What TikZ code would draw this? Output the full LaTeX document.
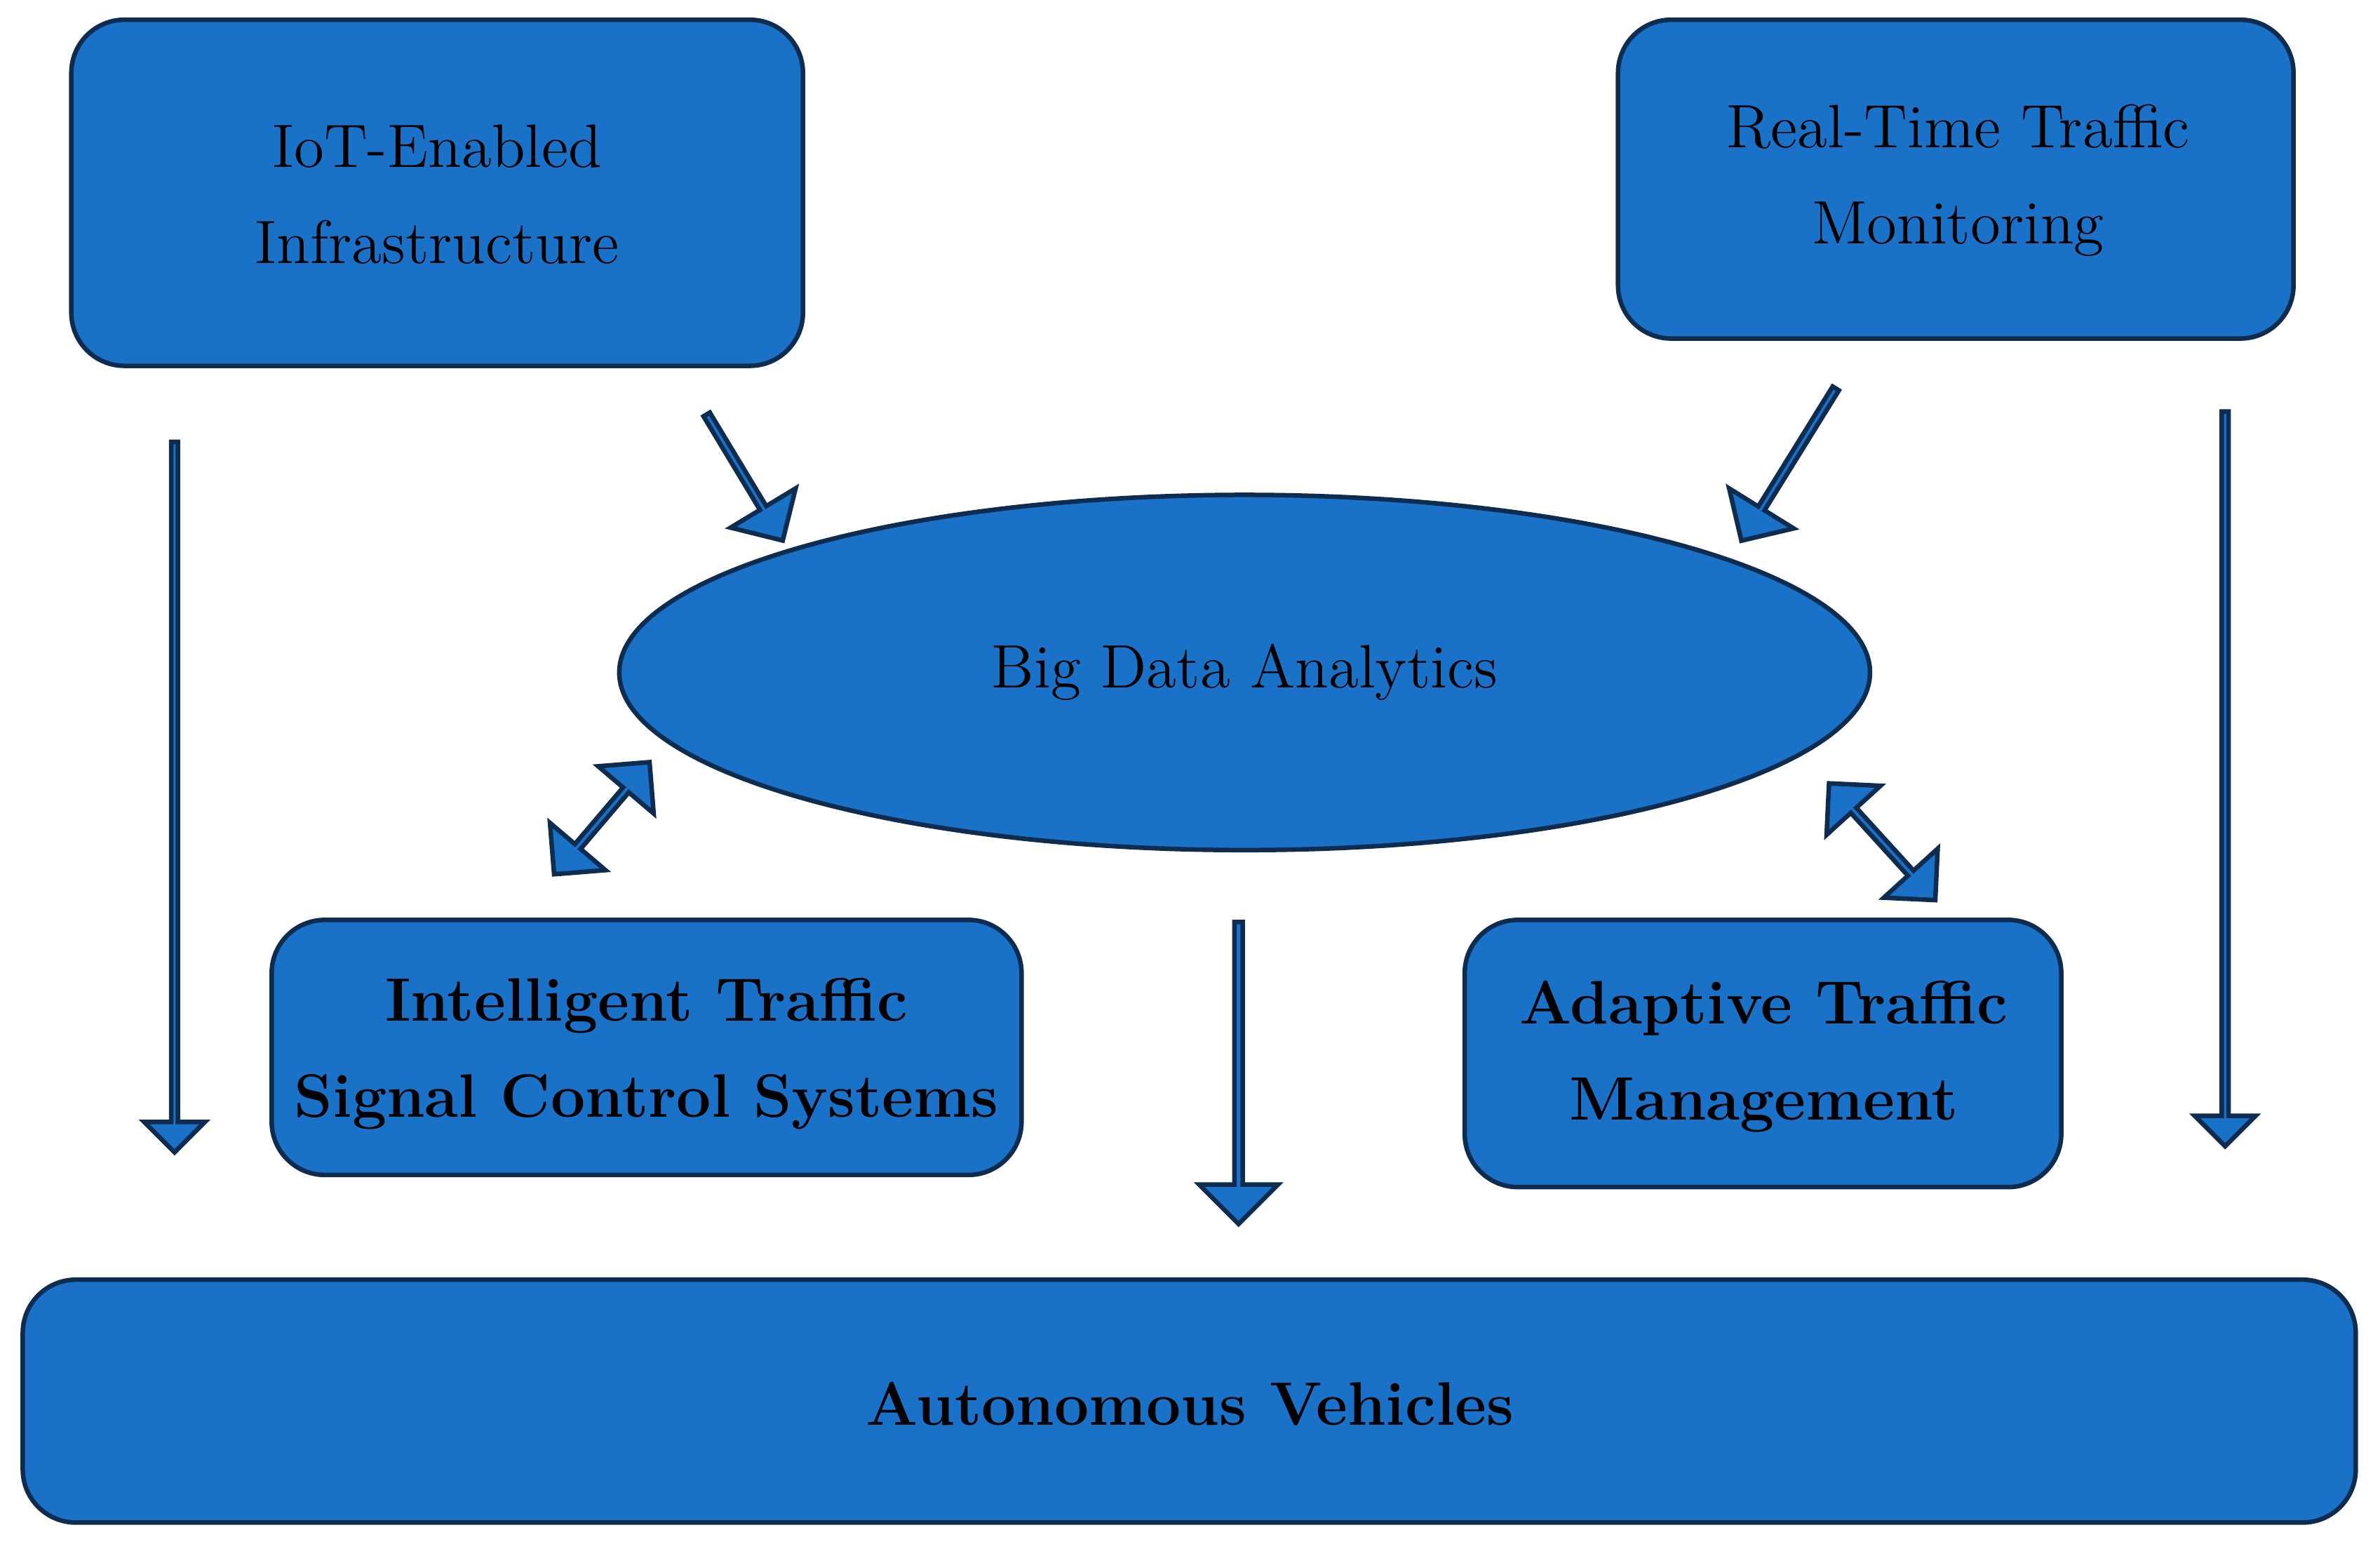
\documentclass[tikz,border=0pt]{standalone}
\usetikzlibrary{shapes.geometric,shapes.arrows}
\definecolor{boxfill}{HTML}{1A72C8}
\definecolor{boxline}{HTML}{0D2C4F}
\begin{document}
\begin{tikzpicture}[x=0.1mm,y=-0.1mm,
  box/.style={draw=boxline,line width=0.3mm,fill=boxfill,rounded corners=3.5mm},
  lbl/.style={align=center,font=\fontsize{11.5}{18}\selectfont,text=black},
  arr/.style={single arrow,draw=boxline,line width=0.3mm,fill=boxfill,inner sep=0pt,single arrow head indent=0pt},
  darr/.style={double arrow,draw=boxline,line width=0.3mm,fill=boxfill,inner sep=0pt,double arrow head indent=0pt}]
\useasboundingbox (0,0) rectangle (1568,1017);
\draw[box] (47,13) rectangle (529,241);
\node[lbl] (iot) at (288,128) {IoT-Enabled\\Infrastructure};
\draw[box] (1066,13) rectangle (1511,223);
\node[lbl] (rt) at (1290,119) {Real-Time Traffic\\Monitoring};
\node[ellipse,draw=boxline,line width=0.3mm,fill=boxfill,minimum width=82.4mm,minimum height=23.4mm] (bda) at (820,443) {};
\node[lbl] at (820,443) {Big Data Analytics};
\draw[box] (179,606) rectangle (673,774);
\node[lbl,font=\fontsize{11.5}{18}\selectfont\bfseries] (itsc) at (426,694) {Intelligent Traffic\\Signal Control Systems};
\draw[box] (965,606) rectangle (1358,782);
\node[lbl,font=\fontsize{11.5}{18}\selectfont\bfseries] (atm) at (1162,696) {Adaptive Traffic\\Management};
\draw[box] (15,843) rectangle (1552,1003);
\node[lbl,font=\fontsize{11.5}{18}\selectfont\bfseries] (av) at (784,925) {Autonomous Vehicles};
% arrows
\node[arr,minimum height=46.8mm,minimum width=4mm,single arrow head extend=1.2mm,rotate=-90] (a1) at (115,524) {};
\node[arr,minimum height=48.4mm,minimum width=4mm,single arrow head extend=1.2mm,rotate=-90] (a2) at (1466,512) {};
\node[arr,minimum height=19.9mm,minimum width=5.2mm,single arrow head extend=1.3mm,rotate=-90] (a3) at (816,705.5) {};
\node[arr,minimum height=9.7mm,minimum width=5mm,single arrow head extend=1.4mm,rotate=-58.9] (a4) at (490,313.5) {};
\node[arr,minimum height=11.8mm,minimum width=5mm,single arrow head extend=1.4mm,rotate=-121.8] (a5) at (1179,305) {};
\node[darr,minimum height=9.7mm,minimum width=4.8mm,double arrow head extend=1.3mm,rotate=49.6] (a6) at (396.5,539) {};
\node[darr,minimum height=10.4mm,minimum width=4.8mm,double arrow head extend=1.3mm,rotate=-47.7] (a7) at (1240,554.5) {};
\end{tikzpicture}
\end{document}
